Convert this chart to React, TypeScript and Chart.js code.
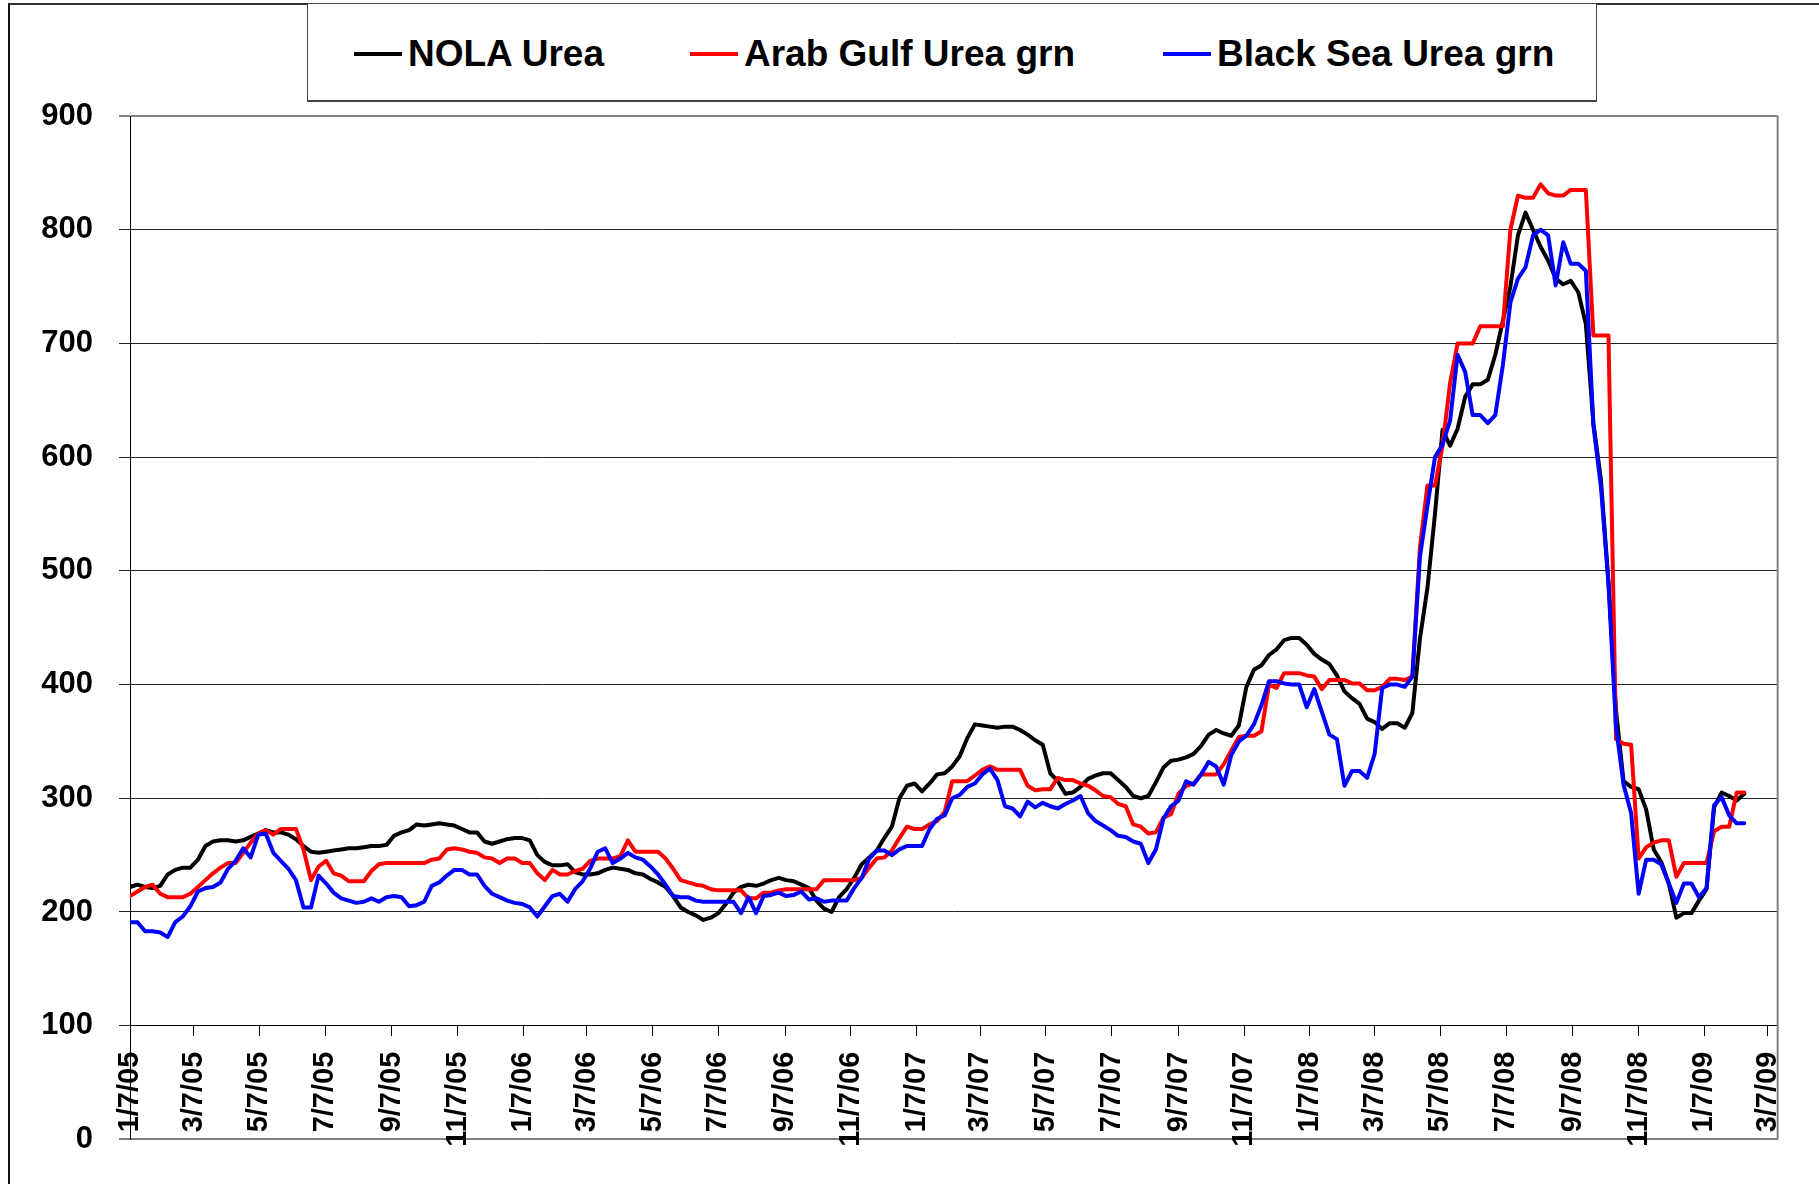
import React, { useEffect, useRef } from 'react';
import { Chart, registerables } from 'chart.js';

Chart.register(...registerables);

// ---------- data ----------
const tickLabels = [
  '1/7/05', '3/7/05', '5/7/05', '7/7/05', '9/7/05', '11/7/05',
  '1/7/06', '3/7/06', '5/7/06', '7/7/06', '9/7/06', '11/7/06',
  '1/7/07', '3/7/07', '5/7/07', '7/7/07', '9/7/07', '11/7/07',
  '1/7/08', '3/7/08', '5/7/08', '7/7/08', '9/7/08', '11/7/08',
  '1/7/09', '3/7/09',
];
const firstWeek = '1/7/05';
const axisEnd = '3/16/09';

const seriesNames = ['NOLA Urea', 'Arab Gulf Urea grn', 'Black Sea Urea grn'];
const seriesColors = ['#000000', '#FF0000', '#0000FF'];

// weekly values, starting 1/7/05
const nolaUrea = [
  222, 224, 222, 221, 223, 233, 237, 239, 239, 246,
  258, 262, 263, 263, 262, 263, 266, 269, 272, 270,
  270, 268, 264, 258, 253, 252, 253, 254, 255, 256,
  256, 257, 258, 258, 259, 267, 270, 272, 277, 276,
  277, 278, 277, 276, 273, 270, 270, 262, 260, 262,
  264, 265, 265, 263, 250, 244, 241, 241, 242, 235,
  233, 233, 234, 237, 239, 238, 237, 234, 233, 229,
  226, 222, 214, 204, 200, 197, 193, 195, 199, 207,
  217, 222, 224, 223, 225, 228, 230, 228, 227, 224,
  221, 210, 203, 200, 213, 220, 230, 242, 248, 254,
  265, 275, 300, 311, 313, 306, 313, 321, 322, 328,
  337, 353, 365, 364, 363, 362, 363, 363, 360, 356,
  351, 347, 322, 315, 304, 305, 310, 317, 320, 322,
  322, 316, 310, 302, 300, 302, 314, 327, 333, 334,
  336, 339, 346, 356, 360, 357, 355, 364, 398, 413,
  417, 426, 431, 439, 441, 441, 435, 427, 422, 418,
  408, 394, 388, 383, 370, 367, 361, 366, 366, 362,
  375, 440, 485, 550, 624, 610, 625, 653, 664, 664,
  668, 690, 720, 750, 795, 815, 800, 785, 773, 757,
  752, 755, 745, 717, 630, 580, 490, 377, 315, 310,
  308, 290, 255, 244, 225, 195, 199, 199, 210, 220,
  292, 305, 302, 298, 304,
];

const arabGulfUrea = [
  214, 218, 222, 224, 216, 213, 213, 213, 216, 222,
  228, 234, 239, 243, 243, 252, 261, 269, 272, 268,
  273, 273, 273, 255, 228, 240, 245, 234, 232, 227,
  227, 227, 236, 242, 243, 243, 243, 243, 243, 243,
  246, 247, 255, 256, 255, 253, 252, 248, 247, 243,
  247, 247, 243, 243, 234, 228, 237, 233, 233, 236,
  238, 245, 247, 247, 247, 249, 263, 253, 253, 253,
  253, 247, 238, 228, 226, 224, 223, 220, 219, 219,
  219, 219, 212, 212, 217, 217, 219, 220, 220, 220,
  220, 220, 228, 228, 228, 228, 228, 230, 239, 247,
  248, 254, 265, 275, 273, 273, 277, 280, 288, 315,
  315, 315, 320, 325, 328, 325, 325, 325, 325, 311,
  307, 308, 308, 318, 316, 316, 313, 311, 307, 302,
  301, 295, 293, 277, 275, 269, 270, 283, 286, 304,
  311, 313, 321, 321, 321, 330, 342, 354, 355, 355,
  359, 400, 397, 410, 410, 410, 408, 407, 396, 404,
  404, 404, 401, 401, 395, 395, 398, 405, 405, 404,
  407, 520, 575, 575, 610, 665, 700, 700, 700, 715,
  715, 715, 715, 800, 830, 828, 828, 840, 832, 830,
  830, 835, 835, 835, 707, 707, 707, 352, 348, 347,
  247, 257, 261, 263, 263, 231, 243, 243, 243, 243,
  271, 275, 275, 305, 305,
];

const blackSeaUrea = [
  191, 191, 183, 183, 182, 178, 191, 196, 205, 218,
  221, 222, 226, 238, 245, 256, 248, 268, 269, 252,
  245, 238, 228, 204, 204, 232, 225, 217, 212, 210,
  208, 209, 212, 209, 213, 214, 213, 205, 206, 209,
  223, 226, 232, 237, 237, 233, 233, 223, 216, 213,
  210, 208, 207, 204, 196, 205, 214, 216, 209, 220,
  227, 238, 253, 256, 243, 247, 252, 248, 246, 240,
  233, 224, 214, 213, 213, 210, 209, 209, 209, 209,
  209, 199, 213, 199, 214, 215, 217, 214, 215, 218,
  211, 212, 209, 210, 210, 210, 221, 230, 247, 254,
  254, 250, 255, 258, 258, 258, 273, 282, 285, 300,
  303, 310, 313, 321, 326, 316, 293, 291, 284, 297,
  292, 296, 293, 291, 295, 298, 302, 287, 280, 276,
  272, 267, 266, 262, 260, 243, 255, 282, 293, 298,
  315, 312, 321, 332, 328, 312, 338, 350, 355, 365,
  382, 403, 403, 401, 400, 400, 380, 396, 376, 356,
  352, 311, 324, 324, 318, 339, 397, 400, 400, 398,
  407, 512, 557, 600, 611, 632, 690, 675, 637, 637,
  630, 637, 681, 736, 757, 767, 795, 800, 795, 751,
  789, 770, 770, 764, 628, 574, 489, 363, 312, 287,
  216, 246, 246, 242, 225, 208, 225, 225, 213, 221,
  294, 301, 285, 278, 278,
];

const yMin = 0;
const yMax = 900;
const yStep = 100;
const xAxisCrossing = 100;

// ---------- helpers ----------
const toUTC = (label: string) => {
  const [m, d, y] = label.split('/').map(Number);
  return Date.UTC(2000 + y, m - 1, d);
};
const dayOf = (label: string) => Math.round((toUTC(label) - toUTC(firstWeek)) / 86400000);
const tickDays = tickLabels.map(dayOf);
const endDay = dayOf(axisEnd);
const toPoints = (vals: number[]) => vals.map((v, i) => ({ x: i * 7, y: v }));

const FONT = "'Liberation Sans', Arial, Helvetica, sans-serif";

const plotFramePlugin = {
  id: 'plotFrame',
  afterDraw(chart: any) {
    const { ctx, chartArea } = chart;
    ctx.save();
    ctx.strokeStyle = '#808080';
    ctx.lineWidth = 2;
    ctx.beginPath();
    ctx.moveTo(chartArea.right, chartArea.top);
    ctx.lineTo(chartArea.right, chartArea.bottom);
    ctx.stroke();
    ctx.restore();
  },
};

export default function App() {
  const canvasRef = useRef<HTMLCanvasElement | null>(null);

  useEffect(() => {
    document.body.style.margin = '0';
    const canvas = canvasRef.current;
    if (!canvas) return;
    const datasets = [nolaUrea, arabGulfUrea, blackSeaUrea].map((vals, i) => ({
      label: seriesNames[i],
      data: toPoints(vals),
      borderColor: seriesColors[i],
      backgroundColor: seriesColors[i],
      borderWidth: 4,
      pointRadius: 0,
      tension: 0,
      fill: false,
      order: 3 - i,
      borderJoinStyle: 'round' as const,
      borderCapStyle: 'round' as const,
    }));

    const chart = new Chart(canvas, {
      type: 'line',
      data: { datasets },
      options: {
        responsive: false,
        animation: false,
        events: [],
        layout: { padding: { left: 0, right: 41, top: 116, bottom: 44 } },
        plugins: { legend: { display: false }, tooltip: { enabled: false } },
        scales: {
          x: {
            type: 'linear',
            position: { y: xAxisCrossing } as any,
            min: 0,
            max: endDay,
            afterBuildTicks: (scale: any) => {
              scale.ticks = tickDays.map((v) => ({ value: v }));
            },
            ticks: {
              autoSkip: false,
              minRotation: 90,
              maxRotation: 90,
              padding: 16,
              color: '#000',
              font: { family: FONT, size: 29, weight: 'bold' },
              callback: (v: any) => {
                const idx = tickDays.indexOf(Number(v));
                return idx >= 0 ? tickLabels[idx] : '';
              },
            },
            grid: {
              drawOnChartArea: false,
              drawTicks: true,
              tickLength: 10,
              color: '#000',
              lineWidth: 1,
            },
            border: { display: true, color: '#000', width: 1 },
          },
          y: {
            min: yMin,
            max: yMax,
            afterFit: (scale: any) => {
              scale.width = 130;
            },
            ticks: {
              stepSize: yStep,
              padding: 26,
              color: '#000',
              font: { family: FONT, size: 31, weight: 'bold' },
            },
            grid: {
              tickLength: 11,
              color: (c: any) => (c.tick && (c.tick.value === yMin || c.tick.value === yMax) ? '#808080' : '#222'),
              lineWidth: (c: any) => (c.tick && (c.tick.value === yMin || c.tick.value === yMax) ? 2 : 1),
            },
            border: { display: true, color: '#000', width: 1 },
          },
        },
      },
      plugins: [plotFramePlugin],
    });
    return () => chart.destroy();
  }, []);

  const legendItems = [
    { left: 354 },
    { left: 690 },
    { left: 1163 },
  ];

  return (
    <div style={{ position: 'relative', width: 1819, height: 1184, overflow: 'hidden', background: '#fff' }}>
      <div
        style={{
          position: 'absolute', left: 8, top: 3, width: 2000, height: 1400,
          borderLeft: '2px solid #111', borderTop: '2px solid #333', boxSizing: 'border-box',
        }}
      />
      <canvas ref={canvasRef} width={1819} height={1184} style={{ position: 'absolute', left: 0, top: 0 }} />
      <div
        style={{
          position: 'absolute', left: 307, top: 3, width: 1290, height: 99,
          border: '1px solid #444', borderBottomWidth: 2, boxSizing: 'border-box', background: '#fff',
        }}
      />
      {seriesNames.map((name, i) => (
        <div
          key={name}
          style={{
            position: 'absolute', left: legendItems[i].left, top: 34, height: 40,
            display: 'flex', alignItems: 'center', whiteSpace: 'nowrap',
          }}
        >
          <span style={{ display: 'inline-block', width: 48, height: 4, background: seriesColors[i], marginRight: 6 }} />
          <span style={{ fontFamily: FONT, fontWeight: 'bold', fontSize: 37, color: '#000', lineHeight: '40px' }}>{name}</span>
        </div>
      ))}
    </div>
  );
}
